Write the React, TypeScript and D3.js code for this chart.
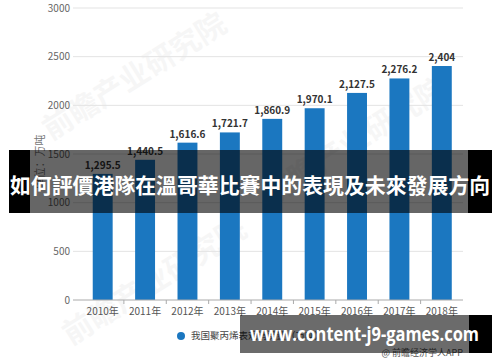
import React, { useRef, useEffect } from 'react';
import * as d3 from 'd3';

const years = ['2010年', '2011年', '2012年', '2013年', '2014年', '2015年', '2016年', '2017年', '2018年'];
const values = [1295.5, 1440.5, 1616.6, 1721.7, 1860.9, 1970.1, 2127.5, 2276.2, 2404];
const yTicks = [0, 500, 1000, 1500, 2000, 2500, 3000];
const seriesName = '我国聚丙烯表观消费量（万吨）';
const yTitle = '单位：万吨';
const headline = '如何評價港隊在溫哥華比賽中的表現及未來發展方向';
const siteText = 'www.content-j9-games.com';
const sourceText = '@ 前瞻经济学人APP';
const watermark = '前瞻产业研究院';

const W = 500;
const H = 362;
const FONT = '"Noto Sans CJK SC", "Noto Sans", sans-serif';

const App = () => {
  const ref = useRef<SVGSVGElement>(null);

  useEffect(() => {
    const svg = d3.select(ref.current);
    svg.selectAll('*').remove();

    svg.append('rect').attr('width', W).attr('height', H).attr('fill', '#fff');

    const x = d3.scaleBand().domain(years).range([81.5, 463]).paddingInner(0.53).paddingOuter(0.265);
    const y = d3.scaleLinear().domain([0, 3000]).range([300, 8]);

    // faint watermarks
    [[140, 85], [360, 150], [160, 290]].forEach(([cx, cy]) => {
      svg.append('text')
        .attr('transform', `translate(${cx},${cy}) rotate(-32)`)
        .attr('text-anchor', 'middle')
        .attr('font-family', FONT)
        .attr('font-weight', 'bold')
        .attr('font-size', 30)
        .attr('fill', '#000')
        .attr('opacity', 0.03)
        .text(watermark);
    });

    // grid lines
    svg.append('g').selectAll('line')
      .data(yTicks.filter(t => t > 0))
      .join('line')
      .attr('x1', 73).attr('x2', 463)
      .attr('y1', d => y(d)).attr('y2', d => y(d))
      .attr('stroke', '#e3e3e3');

    // y tick labels
    svg.append('g').selectAll('text')
      .data(yTicks)
      .join('text')
      .attr('x', 70)
      .attr('y', d => y(d))
      .attr('dy', '0.35em')
      .attr('text-anchor', 'end')
      .attr('font-family', FONT)
      .attr('font-size', 10)
      .attr('fill', '#666')
      .text(d => d);

    // y title
    svg.append('text')
      .attr('transform', 'translate(40,162) rotate(-90)')
      .attr('text-anchor', 'middle')
      .attr('dy', '0.35em')
      .attr('font-family', FONT)
      .attr('font-size', 11)
      .attr('fill', '#777')
      .text(yTitle);

    // bars
    svg.append('g').selectAll('rect')
      .data(values)
      .join('rect')
      .attr('x', (d, i) => x(years[i]))
      .attr('y', d => y(d))
      .attr('width', x.bandwidth())
      .attr('height', d => y(0) - y(d))
      .attr('fill', '#1b77c0');

    // value labels
    const fmt = d3.format(',');
    svg.append('g').selectAll('text')
      .data(values)
      .join('text')
      .attr('x', (d, i) => x(years[i]) + x.bandwidth() / 2)
      .attr('y', d => y(d) - 5)
      .attr('text-anchor', 'middle')
      .attr('font-family', FONT)
      .attr('font-weight', 'bold')
      .attr('font-size', 10)
      .attr('fill', '#333')
      .text(d => fmt(d));

    // x axis
    svg.append('line')
      .attr('x1', 73).attr('x2', 463)
      .attr('y1', y(0)).attr('y2', y(0))
      .attr('stroke', '#aaa');
    const step = x.step();
    svg.append('g').selectAll('line')
      .data(years.slice(1))
      .join('line')
      .attr('x1', d => x(d) - (step - x.bandwidth()) / 2)
      .attr('x2', d => x(d) - (step - x.bandwidth()) / 2)
      .attr('y1', y(0)).attr('y2', y(0) + 4)
      .attr('stroke', '#aaa');
    svg.append('g').selectAll('text')
      .data(years)
      .join('text')
      .attr('x', d => x(d) + x.bandwidth() / 2)
      .attr('y', 315)
      .attr('text-anchor', 'middle')
      .attr('font-family', FONT)
      .attr('font-size', 10)
      .attr('fill', '#555')
      .text(d => d);

    // legend
    svg.append('circle').attr('cx', 181).attr('cy', 336).attr('r', 4).attr('fill', '#1b77c0');
    svg.append('text')
      .attr('x', 191).attr('y', 336).attr('dy', '0.35em')
      .attr('font-family', FONT)
      .attr('font-size', 9.5)
      .attr('fill', '#444')
      .text(seriesName);

    svg.append('text')
      .attr('x', 463).attr('y', 356)
      .attr('text-anchor', 'end')
      .attr('font-family', FONT)
      .attr('font-size', 9)
      .attr('fill', '#555')
      .text(sourceText);

    // headline banner
    svg.append('rect').attr('x', 9).attr('y', 150).attr('width', 21).attr('height', 63).attr('fill', '#000');
    svg.append('rect').attr('x', 30).attr('y', 150).attr('width', 438).attr('height', 63).attr('fill', 'rgba(0,0,0,0.6)');
    svg.append('rect').attr('x', 468).attr('y', 150).attr('width', 24).attr('height', 63).attr('fill', '#000');
    svg.append('text')
      .attr('x', 10).attr('y', 193)
      .attr('textLength', 480)
      .attr('lengthAdjust', 'spacingAndGlyphs')
      .attr('font-family', '"Noto Sans CJK TC", "Noto Sans CJK SC", sans-serif')
      .attr('font-weight', 'bold')
      .attr('font-size', 21)
      .attr('fill', '#fff')
      .text(headline);

    // site banner
    svg.append('rect').attr('x', 240).attr('y', 315).attr('width', 229).attr('height', 38).attr('fill', 'rgba(0,0,0,0.58)');
    svg.append('rect').attr('x', 469).attr('y', 315).attr('width', 23).attr('height', 38).attr('fill', '#000');
    svg.append('text')
      .attr('x', 250).attr('y', 341)
      .attr('textLength', 229)
      .attr('lengthAdjust', 'spacingAndGlyphs')
      .attr('font-family', '"Open Sans", "DejaVu Sans", sans-serif')
      .attr('font-weight', 'bold')
      .attr('font-size', 19)
      .attr('fill', '#fff')
      .text(siteText);
  }, []);

  return <svg ref={ref} width={W} height={H} style={{ position: 'absolute', left: 0, top: 0 }} />;
};

export default App;
